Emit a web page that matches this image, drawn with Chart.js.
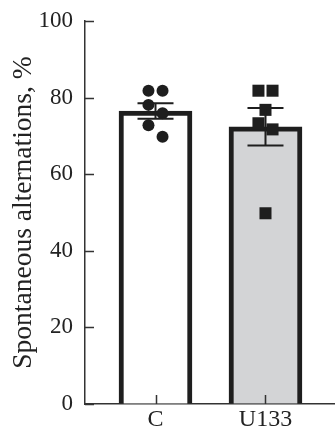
<!DOCTYPE html>
<html>
<head>
<meta charset="utf-8">
<script src="https://cdn.jsdelivr.net/npm/chart.js@4.4.1/dist/chart.umd.min.js"></script>
<style>
  html, body { margin: 0; padding: 0; background: #fff; }
  #wrap { width: 335px; height: 435px; }
</style>
</head>
<body>
<div id="wrap"><canvas id="chart"></canvas></div>
<script>
// data
const groups = ['C', 'U133'];
const means = [76.5, 72.4];
const sems = [2.0, 4.9];
const controlPoints = [81.8, 81.8, 78.1, 75.9, 72.8, 69.8];
const u133Points = [81.8, 81.8, 76.8, 73.3, 71.7, 49.8];
const yTicks = [0, 20, 40, 60, 80, 100];

// which side of the bar centre each dot sits on (layout only)
const controlSide = [-1, 1, -1, 1, -1, 1];
const u133Side = [-1, 1, 0, -1, 1, 0];
const spread = 0.064;

const ink = '#1e1e1e';
const axisColor = '#333';
const font = "'Liberation Serif', 'Times New Roman', serif";

function dots(values, side, group) {
    return values.map((v, i) => ({ x: group + side[i] * spread, y: v }));
}

// error bars with caps, placed through the scales
const errorBars = {
    id: 'errorBars',
    afterDatasetsDraw(chart) {
        let ctx = chart.ctx;
        let xs = chart.scales.x, ys = chart.scales.y;
        ctx.save();
        ctx.strokeStyle = ink;
        ctx.lineWidth = 2;
        means.forEach((m, i) => {
            let x = xs.getPixelForValue(i);
            let top = ys.getPixelForValue(m + sems[i]);
            let bottom = ys.getPixelForValue(m - sems[i]);
            ctx.beginPath();
            ctx.moveTo(x, top); ctx.lineTo(x, bottom);
            ctx.moveTo(x - 18, top); ctx.lineTo(x + 18, top);
            ctx.moveTo(x - 18, bottom); ctx.lineTo(x + 18, bottom);
            ctx.stroke();
        });
        ctx.restore();
    }
};

// small tick marks pointing into the plot
const innerTicks = {
    id: 'innerTicks',
    afterDraw(chart) {
        let ctx = chart.ctx;
        let area = chart.chartArea;
        let xs = chart.scales.x, ys = chart.scales.y;
        ctx.save();
        ctx.strokeStyle = axisColor;
        ctx.lineWidth = 1.5;
        ctx.beginPath();
        ys.ticks.forEach(t => {
            let y = Math.round(ys.getPixelForValue(t.value)) + 0.5;
            ctx.moveTo(area.left, y); ctx.lineTo(area.left + 9, y);
        });
        xs.ticks.forEach(t => {
            let x = Math.round(xs.getPixelForValue(t.value)) + 0.5;
            ctx.moveTo(x, area.bottom); ctx.lineTo(x, area.bottom - 9);
        });
        ctx.stroke();
        ctx.restore();
    }
};

function draw() {
    new Chart(document.getElementById('chart'), {
        type: 'bar',
        data: {
            datasets: [
                {
                    type: 'scatter',
                    data: dots(controlPoints, controlSide, 0),
                    pointStyle: 'circle',
                    pointRadius: 6,
                    pointBackgroundColor: ink,
                    pointBorderWidth: 0,
                    order: 0
                },
                {
                    type: 'scatter',
                    data: dots(u133Points, u133Side, 1),
                    pointStyle: 'rect',
                    pointRadius: 8.5,
                    pointBackgroundColor: ink,
                    pointBorderWidth: 0,
                    order: 0
                },
                {
                    type: 'bar',
                    data: means.map((m, i) => ({ x: i, y: m })),
                    backgroundColor: ['#ffffff', '#d3d4d6'],
                    borderColor: ink,
                    borderWidth: 5,
                    barThickness: 73,
                    order: 1
                }
            ]
        },
        options: {
            responsive: true,
            maintainAspectRatio: false,
            animation: false,
            layout: { autoPadding: false, padding: { top: 21, right: 0, bottom: 0, left: 0 } },
            plugins: {
                legend: { display: false },
                tooltip: { enabled: false }
            },
            scales: {
                x: {
                    type: 'linear',
                    min: -0.641,
                    max: 1.632,
                    offset: false,
                    afterBuildTicks: scale => {
                        scale.ticks = groups.map((g, i) => ({ value: i }));
                    },
                    ticks: {
                        callback: v => groups[v],
                        color: '#222',
                        padding: 3.5,
                        maxRotation: 0,
                        font: { family: font, size: 24, lineHeight: 1 }
                    },
                    grid: { display: true, drawOnChartArea: false, drawTicks: false },
                    border: { display: true, color: axisColor, width: 1.5 }
                },
                y: {
                    min: 0,
                    max: 100,
                    afterBuildTicks: scale => {
                        scale.ticks = yTicks.map(v => ({ value: v }));
                    },
                    ticks: {
                        color: '#222',
                        padding: 12,
                        font: { family: font, size: 23, lineHeight: 0.75 }
                    },
                    grid: { display: true, drawOnChartArea: false, drawTicks: false },
                    border: { display: true, color: axisColor, width: 1.5 },
                    title: {
                        display: true,
                        text: 'Spontaneous alternations, %',
                        color: '#222',
                        font: { family: font, size: 27.5, lineHeight: 1 },
                        padding: { top: 10, bottom: -11 }
                    }
                }
            }
        },
        plugins: [errorBars, innerTicks]
    });
}

document.fonts.load("24px 'Liberation Serif'").then(draw, draw);
</script>
</body>
</html>
